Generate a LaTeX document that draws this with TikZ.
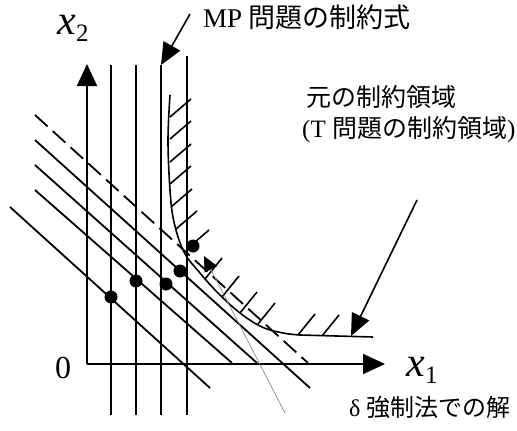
\documentclass[tikz,border=0pt]{standalone}
\usepackage{fontspec}
\setmainfont{Liberation Serif}
\newfontfamily\jpfont{Noto Sans CJK JP}
\usetikzlibrary{arrows.meta, positioning, calc}

\newcommand{\xlab}[1]{{\fontsize{42}{42}\selectfont\itshape x}\raisebox{-7pt}{\fontsize{25}{25}\selectfont #1}}

\begin{document}
\begin{tikzpicture}[
        x=1pt, y=-1pt,
        axis/.style={-{Triangle[length=22pt, width=20pt]}, line width=1.8pt},
        grid/.style={line width=1.8pt},
        level/.style={line width=1.8pt},
        bound/.style={line width=1.6pt},
        hatch/.style={line width=1.6pt},
        callout/.style={-{Triangle[length=22pt, width=19pt]}, line width=1.6pt},
        pointer/.style={-{Triangle[length=15pt, width=14pt, color=black]}, draw=black!45, line width=0.7pt},
        sol/.style={circle, fill=black, inner sep=0pt, minimum size=13pt},
        lbl/.style={font=\fontsize{24}{31}\selectfont, inner sep=0pt, align=left}
    ]
        \useasboundingbox (0,0) rectangle (517,431);

        % ----------------------------------------------------
        % AXES
        % ----------------------------------------------------
        \coordinate (O) at (87,364);
        \coordinate (x1tip) at (385,364);
        \coordinate (x2tip) at (87,64);
        \draw[axis] (O) -- (x1tip);
        \draw[axis] (O) -- (x2tip);

        \node[inner sep=0pt] (x2lab) at (73,28) {\xlab{2}};
        \node[inner sep=0pt] (x1lab) at (422,370) {\xlab{1}};
        \node[inner sep=0pt, font=\fontsize{32}{32}\selectfont] (origin) at (63,368) {0};

        % ----------------------------------------------------
        % MP CONSTRAINTS (vertical) and LEVEL LINES (diagonal)
        % ----------------------------------------------------
        \foreach \gx/\gtop [count=\i] in {111/65, 136/65, 161/65, 187/56} {
            \draw[grid] (\gx,\gtop) coordinate (vtop\i) -- (\gx,415);
        }

        \draw[level, dash pattern=on 17pt off 7pt] (35,115) -- (308,363);
        \draw[level] (35,140) -- (310,388);
        \draw[level] (35,165) -- (257,363);
        \draw[level] (35,190) -- (232,363);
        \draw[level] (10,207) -- (210,388);

        % ----------------------------------------------------
        % ORIGINAL FEASIBLE REGION (boundary + hatching)
        % ----------------------------------------------------
        \draw[bound] plot[smooth, tension=0.6] coordinates {(170,95) (168,140) (170,190) (174,222) (184,252) (200,273) (218,293) (240,313) (262,327) (283,333) (300,335)} -- (373,337);

        \foreach \hx/\hy in {170/117, 170/139, 170/162, 170/184, 171/207, 176/229, 188/248}
            \draw[hatch] (\hx,\hy) -- ++(21,-18);
        \foreach \hx/\hy in {205/279, 222/297, 240/313, 258/324, 298/335, 322/336}
            \draw[hatch] (\hx,\hy) -- ++(17,-21);

        % ----------------------------------------------------
        % SOLUTIONS
        % ----------------------------------------------------
        \node[sol] (s1) at (111,297) {};
        \node[sol] (s2) at (136,281) {};
        \node[sol] (s3) at (166,284) {};
        \node[sol] (s4) at (180,271) {};
        \node[sol] (s5) at (193,246) {};

        % ----------------------------------------------------
        % LABELS and CALLOUTS
        % ----------------------------------------------------
        \node[lbl, anchor=west, font=\fontsize{27}{31}\selectfont] (mplab) at (203,17) {MP {\jpfont 問題の制約式}};
        \node[lbl, anchor=north west, font=\fontsize{25}{31}\selectfont] (orglab) at (302,85) {\hspace{4pt}{\jpfont 元の制約領域}\\(T {\jpfont 問題の制約領域})};
        \node[lbl, anchor=west] (dlab) at (349,407) {δ {\jpfont 強制法での解}};

        \coordinate (mptail) at (190,14);
        \coordinate (orgtail) at (417,200);
        \coordinate (orgtip) at (351,336);
        \coordinate (dtail) at (285,413);
        \coordinate (dtip) at (204,256);

        \draw[callout] (mptail) -- (vtop3);
        \draw[callout] (orgtail) -- (orgtip);
        \draw[pointer] (dtail) -- (dtip);

    \end{tikzpicture}
\end{document}
